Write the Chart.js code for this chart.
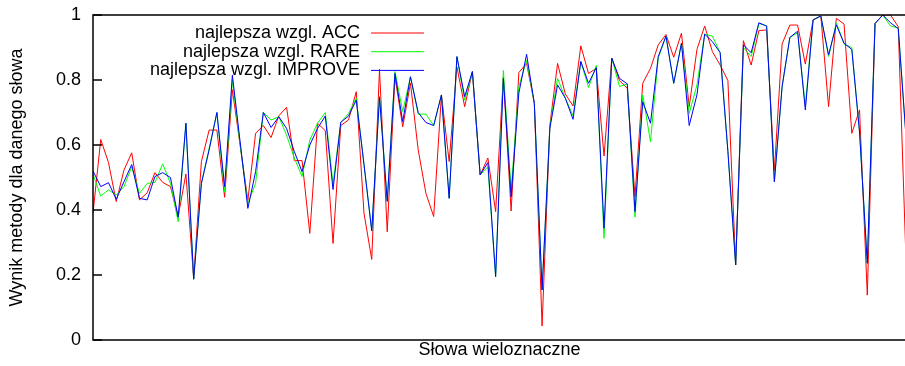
<!DOCTYPE html>
<html>
<head>
<meta charset="utf-8">
<script src="https://cdn.jsdelivr.net/npm/chart.js@4/dist/chart.umd.min.js"></script>
<style>
  html, body { margin: 0; padding: 0; overflow: hidden; background: #fff; }
</style>
</head>
<body>
<canvas id="wordsChart" width="906" height="366"></canvas>
<script>
// Wyniki metod dla kolejnych słów wieloznacznych

const seriesNames = ['najlepsza wzgl. ACC', 'najlepsza wzgl. RARE', 'najlepsza wzgl. IMPROVE'];
const seriesColors = ['#ff0000', '#00ff00', '#0000ff'];

const accValues = [
  0.39, 0.617, 0.546, 0.426, 0.523, 0.576, 0.431, 0.453, 0.515, 0.485,
  0.472, 0.38, 0.511, 0.19, 0.549, 0.646, 0.646, 0.439, 0.77, 0.60,
  0.43, 0.636, 0.66, 0.623, 0.69, 0.716, 0.552, 0.552, 0.328, 0.667,
  0.644, 0.297, 0.66, 0.677, 0.764, 0.39, 0.248, 0.833, 0.333, 0.81,
  0.656, 0.79, 0.585, 0.451, 0.38, 0.754, 0.549, 0.84, 0.718, 0.826,
  0.508, 0.56, 0.395, 0.81, 0.397, 0.823, 0.851, 0.728, 0.043, 0.66,
  0.851, 0.757, 0.72, 0.905, 0.82, 0.836, 0.566, 0.867, 0.798, 0.775,
  0.441, 0.79, 0.836, 0.908, 0.94, 0.87, 0.944, 0.718, 0.894, 0.966,
  0.887, 0.846, 0.798, 0.231, 0.921, 0.846, 0.952, 0.954, 0.52, 0.911,
  0.969, 0.969, 0.849, 0.985, 0.997, 0.718, 0.99, 0.972, 0.636, 0.708,
  0.138, 0.974, 1.0, 1.0, 0.964, 0.246
];

const rareValues = [
  0.51, 0.443, 0.462, 0.446, 0.472, 0.533, 0.451, 0.482, 0.485, 0.542,
  0.482, 0.364, 0.667, 0.187, 0.482, 0.59, 0.70, 0.455, 0.80, 0.60,
  0.42, 0.482, 0.70, 0.677, 0.687, 0.63, 0.56, 0.503, 0.615, 0.667,
  0.70, 0.48, 0.67, 0.697, 0.744, 0.54, 0.336, 0.75, 0.43, 0.826,
  0.703, 0.81, 0.695, 0.695, 0.66, 0.754, 0.436, 0.872, 0.738, 0.826,
  0.508, 0.533, 0.195, 0.829, 0.46, 0.78, 0.86, 0.728, 0.154, 0.655,
  0.805, 0.744, 0.69, 0.857, 0.777, 0.845, 0.313, 0.867, 0.78, 0.788,
  0.378, 0.754, 0.61, 0.867, 0.935, 0.79, 0.913, 0.697, 0.785, 0.941,
  0.935, 0.884, 0.58, 0.231, 0.90, 0.872, 0.974, 0.966, 0.487, 0.78,
  0.931, 0.945, 0.72, 0.985, 0.997, 0.872, 0.976, 0.911, 0.90, 0.64,
  0.236, 0.974, 1.0, 0.966, 0.96, 0.626
];

const improveValues = [
  0.52, 0.472, 0.484, 0.433, 0.487, 0.54, 0.436, 0.431, 0.503, 0.515,
  0.50, 0.378, 0.667, 0.187, 0.482, 0.585, 0.70, 0.472, 0.815, 0.61,
  0.405, 0.518, 0.70, 0.654, 0.687, 0.651, 0.58, 0.518, 0.60, 0.651,
  0.689, 0.463, 0.67, 0.689, 0.738, 0.54, 0.336, 0.747, 0.426, 0.82,
  0.672, 0.81, 0.70, 0.669, 0.66, 0.754, 0.436, 0.872, 0.749, 0.826,
  0.508, 0.546, 0.195, 0.805, 0.44, 0.76, 0.879, 0.728, 0.154, 0.651,
  0.785, 0.744, 0.679, 0.857, 0.79, 0.838, 0.344, 0.867, 0.805, 0.788,
  0.395, 0.733, 0.667, 0.872, 0.935, 0.79, 0.913, 0.66, 0.754, 0.941,
  0.918, 0.884, 0.58, 0.231, 0.908, 0.884, 0.976, 0.966, 0.487, 0.78,
  0.931, 0.95, 0.708, 0.985, 0.997, 0.877, 0.97, 0.913, 0.894, 0.64,
  0.236, 0.974, 1.0, 0.976, 0.958, 0.626
];

// kolejne słowa (bez nazw na osi)
const wordLabels = accValues.map((_, i) => String(i + 1));
const yTicks = [0, 0.2, 0.4, 0.6, 0.8, 1];
const yTickLabels = ['0', '0.2', '0.4', '0.6', '0.8', '1'];

const fontFamily = '"Liberation Sans", Arial, Helvetica, sans-serif';
Chart.defaults.font.family = fontFamily;
Chart.defaults.color = '#000';

// ramka wykresu (prawa krawędź poza obrazkiem), kreski podziałki i legenda
const framePlugin = {
  id: 'frame',
  afterDatasetsDraw(chart) {
    const { ctx, chartArea: a, scales: { y } } = chart;
    ctx.save();
    ctx.strokeStyle = '#000';
    ctx.lineWidth = 1.5;
    ctx.beginPath();
    ctx.moveTo(a.right + 2, a.top);
    ctx.lineTo(a.left, a.top);
    ctx.lineTo(a.left, a.bottom);
    ctx.lineTo(a.right + 2, a.bottom);
    ctx.stroke();
    yTicks.forEach(v => {
      const py = y.getPixelForValue(v);
      ctx.beginPath();
      ctx.moveTo(a.left, py);
      ctx.lineTo(a.left + 9, py);
      ctx.stroke();
    });

    ctx.font = '18px ' + fontFamily;
    ctx.textAlign = 'right';
    ctx.textBaseline = 'middle';
    ctx.lineWidth = 1;
    chart.data.datasets.forEach((ds, k) => {
      const ly = 33 + k * 18.7;
      ctx.fillStyle = '#000';
      ctx.fillText(ds.label, 360, ly);
      ctx.strokeStyle = ds.borderColor;
      ctx.beginPath();
      ctx.moveTo(371, ly);
      ctx.lineTo(424, ly);
      ctx.stroke();
    });
    ctx.restore();
  }
};

function makeDataset(i, values) {
  return {
    label: seriesNames[i],
    data: values,
    borderColor: seriesColors[i],
    borderWidth: 1,
    pointRadius: 0,
    tension: 0,
    fill: false,
    order: 3 - i,
  };
}

new Chart(document.getElementById('wordsChart'), {
  type: 'line',
  data: {
    labels: wordLabels,
    datasets: [
      makeDataset(0, accValues),
      makeDataset(1, rareValues),
      makeDataset(2, improveValues),
    ]
  },
  options: {
    responsive: false,
    animation: false,
    layout: {
      padding: { top: 15, right: 0, bottom: 0, left: 0 }
    },
    plugins: {
      legend: { display: false },
      tooltip: { enabled: false }
    },
    scales: {
      x: {
        type: 'category',
        offset: false,
        grid: { display: false },
        border: { display: false },
        ticks: { display: false },
        title: {
          display: true,
          text: 'Słowa wieloznaczne',
          font: { size: 18 },
          padding: { top: 0, bottom: 5 }
        },
        afterFit(scale) {
          scale.height = 26;
          scale.paddingLeft = 0;
          scale.paddingRight = 0;
        }
      },
      y: {
        min: 0,
        max: 1,
        grid: { display: false, drawTicks: false },
        border: { display: false },
        ticks: {
          stepSize: 0.2,
          padding: 12,
          font: { size: 18 },
          callback: function(value) {
            const idx = yTicks.findIndex(t => Math.abs(t - value) < 1e-6);
            return idx >= 0 ? yTickLabels[idx] : '';
          }
        },
        title: {
          display: true,
          text: 'Wynik metody dla danego słowa',
          font: { size: 18 },
          padding: { top: 6, bottom: 0 }
        },
        afterFit(scale) {
          scale.width = 93;
          scale.paddingTop = 0;
          scale.paddingBottom = 0;
        }
      }
    }
  },
  plugins: [framePlugin]
});
</script>
</body>
</html>
